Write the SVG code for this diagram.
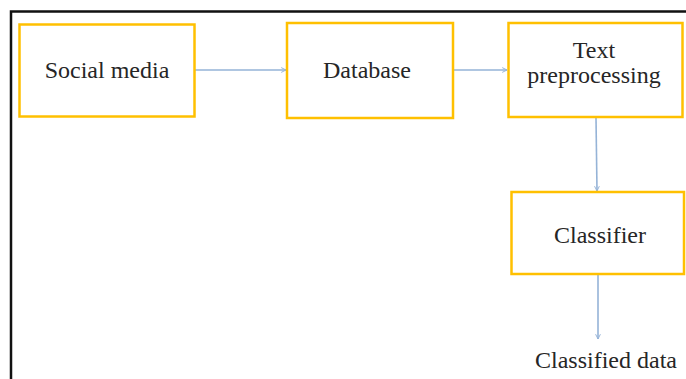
<svg xmlns="http://www.w3.org/2000/svg" width="686" height="379" viewBox="0 0 686 379">
<defs>
<style>
.box{fill:#fff;stroke:#FFC000;stroke-width:2.5}
.lbl{font-size:24px;fill:#262626;text-anchor:middle}
.con{stroke:#95B3D7;stroke-width:1.6;fill:none;marker-end:url(#ah)}
</style>
<marker id="ah" viewBox="0 0 10 10" refX="9" refY="5" markerWidth="6" markerHeight="6" markerUnits="userSpaceOnUse" orient="auto">
<path d="M1,1 L9,5 L1,9" fill="none" stroke="#95B3D7" stroke-width="1.6"/>
</marker>
</defs>
<rect width="686" height="379" fill="#fff"/>
<path d="M11,381 V11.5 H690" fill="none" stroke="#111" stroke-width="2.5"/>
<g id="connectors">
<line class="con" x1="195" y1="70" x2="286" y2="70"/>
<line class="con" x1="453" y1="70" x2="507" y2="70"/>
<line class="con" x1="596" y1="118" x2="597" y2="191"/>
<line class="con" x1="598" y1="275" x2="598" y2="339"/>
</g>
<g font-family="'Liberation Serif', 'Times New Roman', 'DejaVu Serif', serif">
<g id="social-media">
<rect class="box" x="19.5" y="24.5" width="175" height="92"/>
<text class="lbl" x="107" y="78">Social media</text>
</g>
<g id="database">
<rect class="box" x="287" y="23" width="166" height="95"/>
<text class="lbl" x="367" y="78">Database</text>
</g>
<g id="text-preprocessing">
<rect class="box" x="508.5" y="23" width="174" height="94"/>
<text class="lbl" x="594" y="58">Text</text>
<text class="lbl" x="594" y="83">preprocessing</text>
</g>
<g id="classifier">
<rect class="box" x="511.5" y="192" width="172.5" height="82"/>
<text class="lbl" x="600" y="243">Classifier</text>
</g>
<g id="classified-data">
<text class="lbl" x="606" y="368">Classified data</text>
</g>
</g>
</svg>
